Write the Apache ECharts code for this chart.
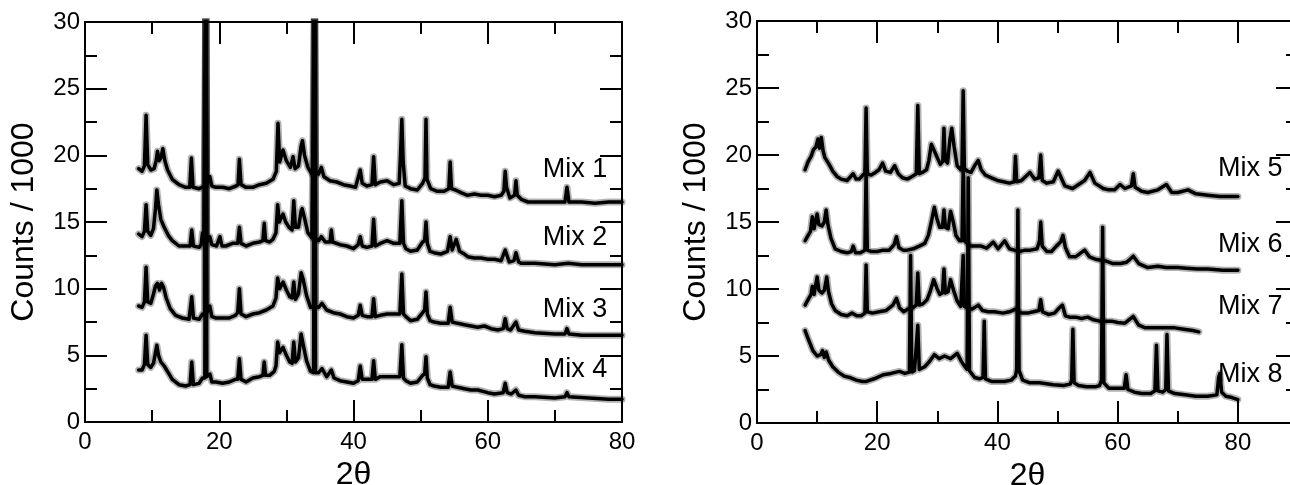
<!DOCTYPE html>
<html>
<head>
<meta charset="utf-8">
<script src="https://cdn.jsdelivr.net/npm/echarts@6/dist/echarts.min.js"></script>
<style>
html,body{margin:0;padding:0;background:#fff;overflow:hidden;}
#chart{width:1290px;height:485px;}
</style>
</head>
<body>
<div id="chart"></div>
<script>
// ---------- data: [2θ, counts / 1000] ----------
const mix1 = [[8,19.0],[8.5,18.8],[8.85,19.2],[9.1,23.0],[9.35,19.3],[9.8,18.9],[10.3,19.0],[10.6,19.6],[10.8,20.3],[11.05,19.6],[11.3,19.8],[11.6,20.5],[11.9,19.6],[12.3,18.9],[13,18.2],[14,17.8],[15,17.6],[15.6,17.6],[15.85,19.8],[16.1,17.6],[17,17.5],[17.85,17.7],[18.0,33],[18.15,17.8],[18.6,18.4],[18.9,17.7],[19.5,17.6],[20.5,17.6],[21.5,17.5],[22.5,17.7],[22.8,17.8],[23.0,19.7],[23.25,17.8],[24,17.6],[25,17.6],[26,17.8],[27,17.9],[28,18.2],[28.5,18.8],[28.75,22.4],[29.0,19.5],[29.5,20.4],[30,19.6],[30.6,19.1],[31.0,19.9],[31.3,19.0],[31.8,19.2],[32.2,20.7],[32.4,21.1],[32.7,20.0],[33.2,19.1],[33.8,18.6],[34.05,18.8],[34.2,33],[34.35,18.8],[34.8,18.6],[35.2,19.1],[35.6,18.4],[36.5,18.1],[37.5,18.0],[38.5,17.8],[39.5,17.7],[40.3,17.6],[40.8,18.5],[41.0,18.9],[41.3,17.9],[42,17.7],[42.75,17.8],[43.0,19.9],[43.25,17.8],[44,18.0],[45,18.1],[46,17.8],[46.8,17.9],[47.0,20.0],[47.2,22.7],[47.4,19.5],[47.7,17.7],[48.5,17.5],[49.5,17.4],[50.3,17.9],[50.65,18.3],[50.8,22.7],[50.95,18.2],[51.5,17.5],[52.5,17.3],[53.5,17.3],[54.2,17.5],[54.4,19.5],[54.6,17.5],[55.2,17.4],[56,17.2],[57,17.0],[58,17.1],[59,17.0],[60,17.0],[61,16.9],[62,17.0],[62.4,17.3],[62.6,18.8],[62.8,17.6],[63.3,16.8],[64.0,17.0],[64.2,18.1],[64.4,17.0],[65,16.7],[66,16.5],[68,16.5],[70,16.5],[71.5,16.5],[71.8,17.6],[72.1,16.5],[74,16.5],[76,16.4],[78,16.5],[80,16.5]];
const mix2 = [[8,14.1],[8.5,13.9],[8.85,14.3],[9.1,16.3],[9.35,14.3],[9.8,14.0],[10.2,14.5],[10.5,16.0],[10.7,17.4],[10.95,16.3],[11.3,15.2],[11.8,14.6],[12.4,14.0],[13,13.6],[14,13.2],[15,13.2],[15.65,13.2],[15.9,14.4],[16.15,13.2],[17,13.1],[17.3,13.3],[17.5,14.2],[17.7,13.4],[17.85,13.4],[18.0,33],[18.15,13.5],[18.6,13.9],[18.9,13.3],[19.6,13.2],[20.1,13.9],[20.4,13.2],[21,13.2],[22,13.4],[22.75,13.4],[23.0,14.6],[23.25,13.4],[24,13.2],[25,13.4],[26,13.5],[26.5,13.6],[26.7,14.9],[26.9,13.6],[27.5,13.5],[28,13.7],[28.45,14.2],[28.7,16.3],[28.95,15.0],[29.5,15.6],[29.9,15.0],[30.4,14.6],[30.85,14.4],[31.1,16.6],[31.35,14.6],[31.8,14.6],[32.2,15.8],[32.35,16.0],[32.7,15.3],[33.2,14.2],[33.8,13.8],[34.05,13.8],[34.2,33],[34.35,13.8],[34.8,13.6],[35.2,13.9],[35.8,13.5],[36.5,13.5],[36.7,14.4],[36.9,13.5],[38,13.3],[39,13.2],[40,13.0],[40.7,13.3],[41.0,13.9],[41.3,13.2],[42,13.1],[42.75,13.2],[43.0,15.2],[43.25,13.2],[44,13.4],[45,13.6],[46,13.4],[46.9,13.4],[47.2,16.6],[47.45,13.4],[47.8,13.0],[48.5,12.8],[49.5,12.9],[50.3,13.5],[50.6,13.6],[50.8,15.0],[51.0,13.4],[51.4,12.8],[52,12.7],[53,12.6],[54,12.8],[54.4,13.9],[54.7,12.9],[55.3,13.7],[55.8,12.8],[56.5,12.6],[57,12.4],[58,12.3],[59,12.3],[60,12.2],[61,12.2],[62,12.1],[62.6,12.9],[63.2,12.0],[63.9,12.1],[64.2,12.7],[64.6,12.0],[65,11.9],[67,11.9],[70,11.8],[72,11.9],[74,11.8],[76,11.8],[78,11.8],[80,11.8]];
const mix3 = [[8,8.7],[8.5,8.6],[8.85,9.0],[9.1,11.6],[9.35,9.0],[9.8,8.9],[10.2,9.6],[10.5,10.2],[10.8,10.4],[11.1,9.9],[11.4,10.4],[11.7,10.1],[12.1,9.3],[12.7,8.5],[13.5,8.0],[14.5,7.8],[15.5,7.7],[15.65,7.8],[15.9,9.4],[16.15,7.8],[17,7.7],[17.5,8.1],[17.85,8.0],[18.0,33],[18.15,8.2],[18.6,8.7],[18.9,7.9],[19.5,7.8],[20.5,7.8],[21.5,7.8],[22.4,8.0],[22.75,8.2],[23.0,10.0],[23.25,8.1],[24,7.9],[25,8.1],[26,8.2],[27,8.4],[28,8.7],[28.45,9.3],[28.7,10.8],[29.0,10.0],[29.5,10.5],[30.0,9.9],[30.5,9.4],[30.85,9.3],[31.1,10.5],[31.35,9.2],[31.8,9.6],[32.2,11.2],[32.5,10.7],[33.0,9.5],[33.6,8.6],[34.05,8.6],[34.2,33],[34.35,8.7],[34.8,8.6],[35.3,8.9],[36,8.4],[37,8.2],[38,8.1],[39,7.9],[40,7.8],[40.7,8.0],[41.0,8.75],[41.3,8.0],[42,7.9],[42.75,7.9],[43.0,9.25],[43.25,7.9],[44,8.0],[45,8.1],[46,8.1],[46.9,8.1],[47.2,11.1],[47.45,8.1],[47.8,7.9],[48.5,7.6],[49.5,7.7],[50.3,8.2],[50.6,8.4],[50.8,9.75],[51.0,8.1],[51.4,7.6],[52,7.5],[53,7.4],[54.1,7.4],[54.4,8.6],[54.7,7.5],[55.5,7.4],[56.5,7.3],[57.5,7.2],[58.5,7.1],[59.5,7.2],[60.5,7.0],[61.5,6.9],[62.3,7.0],[62.6,7.75],[62.9,7.0],[63.4,6.9],[64.2,7.5],[64.6,6.9],[65.5,6.8],[67,6.7],[70,6.6],[71.5,6.6],[71.8,7.0],[72.1,6.6],[74,6.5],[76,6.5],[78,6.5],[80,6.5]];
const mix4 = [[8,3.9],[8.5,3.9],[8.85,4.3],[9.1,6.5],[9.35,4.3],[9.8,4.1],[10.2,4.4],[10.5,5.2],[10.7,5.75],[10.95,5.0],[11.3,4.5],[11.8,4.2],[12.4,3.7],[13,3.2],[14,2.8],[15,2.7],[15.65,2.8],[15.9,4.5],[16.15,2.8],[17,2.9],[17.5,3.3],[17.85,3.3],[18.0,33],[18.15,3.4],[18.6,3.6],[18.9,3.0],[19.5,3.0],[20.5,2.9],[21.5,3.0],[22.4,3.2],[22.75,3.2],[23.0,4.75],[23.25,3.2],[24,3.0],[25,3.3],[26,3.4],[26.5,3.5],[26.7,4.5],[26.9,3.5],[27.5,3.5],[28.2,3.8],[28.45,4.2],[28.7,6.0],[29.0,5.2],[29.5,5.6],[30.0,5.0],[30.5,4.5],[30.85,4.4],[31.1,6.0],[31.35,4.5],[31.8,4.8],[32.2,6.6],[32.5,5.8],[33.0,4.6],[33.6,3.8],[34.05,3.7],[34.2,33],[34.35,3.7],[34.8,3.7],[35.3,4.0],[36,3.4],[36.7,3.9],[37.1,3.3],[38,3.1],[39,3.0],[40,2.9],[40.7,3.1],[41.0,4.2],[41.3,3.2],[42,3.2],[42.75,3.2],[43.0,4.6],[43.25,3.2],[44,3.4],[45,3.4],[46,3.4],[46.9,3.4],[47.2,5.8],[47.45,3.3],[47.8,3.1],[48.5,2.9],[49.5,3.0],[50.3,3.5],[50.6,3.6],[50.8,4.9],[51.0,3.3],[51.4,2.8],[52,2.7],[53,2.6],[54.1,2.6],[54.4,3.75],[54.7,2.7],[55.5,2.6],[56.5,2.5],[57.5,2.4],[58.5,2.4],[60,2.2],[61,2.1],[62.3,2.2],[62.6,2.9],[62.9,2.2],[63.5,2.1],[64.2,2.4],[64.6,2.0],[65.5,1.9],[67,1.9],[70,1.8],[71.5,1.9],[71.8,2.2],[72.1,1.9],[75,1.8],[78,1.7],[80,1.7]];
const mix5 = [[8,18.9],[8.5,19.5],[9.0,19.9],[9.4,20.4],[9.8,20.6],[10.15,21.2],[10.4,20.5],[10.7,21.3],[11.0,20.3],[11.3,19.8],[11.6,19.9],[12.0,19.3],[12.6,18.8],[13.3,18.4],[14,18.2],[15,18.1],[16.0,18.6],[16.5,18.2],[17,18.2],[17.6,18.5],[17.95,18.6],[18.15,23.5],[18.35,18.6],[19,18.5],[19.7,18.7],[20.3,18.9],[20.9,19.4],[21.4,18.8],[22.2,18.7],[22.9,19.2],[23.5,18.6],[24.2,18.3],[25,18.2],[25.8,18.4],[26.5,18.6],[26.75,23.7],[27.0,18.6],[27.5,18.7],[28.2,18.9],[28.6,19.6],[29.0,20.8],[29.5,20.3],[30.0,19.8],[30.5,19.3],[30.9,19.5],[31.1,22.0],[31.3,19.6],[31.7,19.4],[32.1,21.2],[32.4,22.0],[32.8,20.6],[33.3,19.2],[33.9,18.9],[34.1,19.2],[34.3,24.8],[34.5,19.0],[35.0,18.8],[35.6,18.7],[36.2,19.2],[36.8,19.6],[37.3,18.9],[38,18.5],[39,18.3],[40,18.1],[41,18.0],[42,17.9],[42.8,18.0],[43.0,19.9],[43.2,18.0],[44,18.1],[45.4,18.7],[46.2,18.2],[46.9,18.3],[47.2,20.0],[47.45,18.1],[48.2,17.9],[49.3,18.0],[50.1,18.8],[50.6,18.3],[51.2,17.7],[52.5,17.5],[53.5,17.8],[54.5,18.1],[55.4,18.7],[56.2,17.9],[57.6,17.5],[58.5,17.4],[59.5,17.4],[60.4,17.8],[61.2,17.5],[62.3,17.7],[62.6,18.6],[62.9,17.6],[64,17.3],[65,17.2],[66.7,17.4],[68.1,17.8],[69,17.2],[70,17.2],[71.7,17.4],[73,17.1],[75,17.0],[77,16.9],[78.5,16.9],[80,16.9]];
const mix6 = [[8,13.6],[8.5,14.0],[8.9,14.3],[9.2,15.4],[9.5,14.5],[9.8,14.6],[10.0,15.6],[10.3,14.8],[10.8,14.7],[11.2,15.0],[11.5,15.9],[11.8,14.8],[12.3,13.8],[13,13.0],[14,12.8],[15,12.7],[15.7,12.8],[16.0,13.2],[16.4,12.7],[17.2,12.7],[17.95,12.9],[18.15,18.8],[18.35,12.9],[19,12.8],[20,12.8],[21,12.9],[22,12.9],[22.8,13.3],[23.2,13.9],[23.6,13.1],[24.3,12.9],[25,12.9],[26,13.0],[27,13.2],[27.9,13.4],[28.5,14.0],[29.0,15.0],[29.5,16.1],[29.9,15.3],[30.4,14.6],[30.85,14.6],[31.1,15.9],[31.35,14.6],[31.8,14.5],[32.2,15.8],[32.6,15.1],[33.1,14.0],[33.7,13.6],[34.1,13.6],[34.3,19.0],[34.5,13.6],[35.0,13.4],[35.6,13.2],[36.5,13.2],[37.3,13.2],[38.2,13.05],[39.3,13.5],[40.1,13.0],[41.2,13.6],[42,13.0],[42.8,12.9],[43.7,12.8],[44.6,12.9],[45.5,12.9],[46.6,13.0],[47.0,13.6],[47.2,15.0],[47.45,13.2],[48.2,12.8],[49.0,12.8],[49.8,13.2],[50.5,13.5],[50.9,14.0],[51.3,13.1],[52,12.4],[53,12.4],[54.5,12.9],[55.3,12.4],[56.5,12.2],[58,12.1],[59.2,11.9],[60.5,11.9],[61.5,12.0],[62.6,12.45],[63.5,11.9],[65,11.6],[66.7,11.7],[68,11.6],[70,11.6],[71.4,11.55],[73.3,11.5],[75,11.5],[77.5,11.4],[80,11.4]];
const mix7 = [[8,8.8],[8.5,9.2],[9.0,9.6],[9.2,10.2],[9.5,9.6],[9.8,9.6],[10.0,10.9],[10.3,9.9],[10.8,9.7],[11.2,9.9],[11.6,10.9],[11.9,9.8],[12.4,8.9],[13,8.4],[14,8.1],[15,8.0],[15.8,8.2],[16.6,8.0],[17.3,8.0],[17.95,8.2],[18.15,11.8],[18.35,8.3],[19.2,8.2],[20.3,8.3],[21.5,8.4],[22.6,8.8],[23.2,9.3],[23.7,8.6],[24.4,8.3],[25.1,8.5],[25.9,8.6],[26.5,8.8],[26.75,11.2],[27.0,8.8],[27.6,8.9],[28.3,9.2],[28.8,9.8],[29.4,10.7],[29.9,10.1],[30.4,9.6],[30.85,9.7],[31.1,11.5],[31.35,9.7],[31.8,9.8],[32.2,10.7],[32.7,9.9],[33.3,9.1],[33.9,8.7],[34.1,8.7],[34.3,12.5],[34.5,8.7],[35.0,8.6],[35.8,8.5],[36.8,8.8],[37.5,8.4],[38.5,8.3],[39.5,8.3],[40.9,8.2],[42,8.3],[43,8.5],[44,8.2],[45,8.2],[46,8.3],[46.9,8.4],[47.2,9.2],[47.5,8.3],[48.5,8.1],[49.5,8.2],[50.3,8.6],[50.8,8.8],[51.3,8.0],[52,7.9],[53,7.9],[54,7.8],[55,7.9],[56,7.7],[57,7.6],[58,7.6],[59,7.6],[60,7.5],[61.2,7.45],[62.6,7.95],[63.5,7.3],[64.6,7.1],[66,7.1],[67.5,7.1],[69.5,7.1],[71,7.0],[72.5,6.9],[73.5,6.8]];
const mix8 = [[8,6.9],[8.5,6.3],[9.3,5.4],[10,5.0],[10.6,5.1],[10.9,5.4],[11.2,4.9],[11.5,5.3],[11.9,4.7],[12.6,4.2],[13.5,3.8],[14.5,3.5],[15.4,3.4],[16.5,3.2],[17.5,3.1],[18.2,3.1],[19.5,3.3],[21.0,3.6],[22.3,3.7],[23.7,3.85],[24.6,3.7],[25.35,3.8],[25.55,12.5],[25.75,3.8],[26.2,3.9],[26.5,4.0],[26.75,7.3],[27.0,4.0],[27.9,4.2],[28.7,4.6],[29.5,5.1],[30.3,4.8],[31.2,5.0],[32.2,4.8],[33.3,5.2],[34.0,4.6],[34.6,4.2],[34.95,4.0],[35.15,18.3],[35.35,3.9],[36.2,3.4],[37.0,3.3],[37.6,3.4],[37.8,7.6],[38.0,3.3],[39,3.1],[40.1,3.1],[41.2,3.1],[42.3,3.2],[43.0,3.5],[43.2,4.0],[43.4,15.9],[43.6,3.9],[44.2,3.2],[45.4,3.0],[47,3.0],[49.3,2.85],[51,2.8],[52.1,2.9],[52.35,3.2],[52.55,7.0],[52.75,3.0],[53.5,2.8],[54.8,2.7],[56.3,2.7],[57.0,2.8],[57.3,3.2],[57.5,14.6],[57.7,3.0],[58.5,2.6],[60.4,2.6],[61.1,2.6],[61.4,3.6],[61.7,2.5],[62.8,2.3],[64,2.2],[65.5,2.2],[66.2,2.4],[66.45,5.8],[66.7,2.4],[67.5,2.3],[68.0,2.5],[68.2,6.6],[68.45,2.4],[69.5,2.2],[71.2,2.1],[73,2.0],[75,2.0],[76.5,2.1],[76.8,3.4],[77.0,3.7],[77.3,2.3],[78,2.0],[79,1.9],[80,1.75]];

const leftSeries = [mix1, mix2, mix3, mix4];
const rightSeries = [mix5, mix6, mix7, mix8];
const leftNames = ['Mix 1', 'Mix 2', 'Mix 3', 'Mix 4'];
const rightNames = ['Mix 5', 'Mix 6', 'Mix 7', 'Mix 8'];
// label anchors in data units [2θ, counts / 1000]
const leftLabelAt = [[68.2, 18.9], [68.2, 13.8], [68.2, 8.4], [68.2, 3.9]];
const rightLabelAt = [[76.7, 19.0], [76.7, 13.3], [76.7, 8.7], [76.7, 3.6]];
const xTitle = '2θ';
const yTitle = 'Counts / 1000';

// ---------- styling ----------
const FONT = '"Liberation Sans", Arial, Helvetica, sans-serif';
function AX() { return {color: '#000', width: 2, opacity: 1}; }

function xAxesFor(grid, max) {
  const major = (pos, labels) => ({
    type: 'value', gridIndex: grid, min: 0, max: max, position: pos, interval: 20,
    splitLine: {show: false},
    axisLine: {show: true, onZero: false, lineStyle: AX()},
    axisTick: {show: true, inside: true, length: 22, lineStyle: AX()},
    axisLabel: {show: labels, color: '#000', fontSize: 24, margin: 8, fontFamily: FONT, showMaxLabel: max === 80},
    name: labels ? xTitle : '', nameLocation: 'middle', nameGap: 36,
    nameTextStyle: {color: '#000', fontSize: 32, fontFamily: FONT}
  });
  const minor = (pos) => ({
    type: 'value', gridIndex: grid, min: 0, max: max, position: pos, interval: 10,
    splitLine: {show: false},
    axisLine: {show: false, onZero: false},
    axisTick: {show: true, inside: true, length: 12, lineStyle: AX()},
    axisLabel: {show: false}
  });
  return [major('bottom', true), minor('bottom'), major('top', false), minor('top')];
}
function yAxesFor(grid) {
  const mk = (pos, labels) => ({
    type: 'value', gridIndex: grid, min: 0, max: 30, interval: 5, position: pos,
    splitLine: {show: false},
    axisLine: {show: true, onZero: false, lineStyle: AX()},
    axisTick: {show: true, inside: true, length: 22, lineStyle: AX()},
    minorTick: {show: true, splitNumber: 2, length: 12, lineStyle: AX()},
    axisLabel: {show: labels, color: '#000', fontSize: 24, margin: 5, fontFamily: FONT},
    name: labels ? yTitle : '', nameLocation: 'middle', nameGap: 45,
    nameTextStyle: {color: '#000', fontSize: 32, fontFamily: FONT}
  });
  return [mk('left', true), mk('right', false)];
}

function lineSeries(data, xi, yi, width, color, z) {
  return {type: 'line', xAxisIndex: xi, yAxisIndex: yi, data: data, showSymbol: false, symbol: 'none',
    clip: true, lineStyle: {color: color, width: width, join: 'round', cap: 'round'}, silent: true, z: z};
}
function labelSeries(names, pts, xi, yi) {
  return {type: 'scatter', xAxisIndex: xi, yAxisIndex: yi, symbolSize: 0, silent: true, z: 5,
    data: names.map((n, i) => ({name: n, value: pts[i]})),
    label: {show: true, position: 'right', distance: 0, formatter: '{b}', color: '#000', opacity: 1,
      fontSize: 27, fontFamily: FONT}};
}

const series = [];
// faint halo imitates the noise band of the scans, solid core on top
leftSeries.forEach(d => series.push(lineSeries(d, 0, 0, 7, 'rgba(0,0,0,0.3)', 1)));
rightSeries.forEach(d => series.push(lineSeries(d, 4, 2, 7, 'rgba(0,0,0,0.3)', 1)));
leftSeries.forEach(d => series.push(lineSeries(d, 0, 0, 3.5, '#000', 2)));
rightSeries.forEach(d => series.push(lineSeries(d, 4, 2, 3.5, '#000', 2)));
series.push(labelSeries(leftNames, leftLabelAt, 0, 0));
series.push(labelSeries(rightNames, rightLabelAt, 4, 2));

const chart = echarts.init(document.getElementById('chart'), null, {renderer: 'canvas'});
chart.setOption({
  animation: false,
  backgroundColor: '#fff',
  grid: [
    {left: 85, top: 22, width: 537, height: 400, outerBoundsMode: 'none', containLabel: false},
    {left: 757, top: 21, width: 541, height: 402, outerBoundsMode: 'none', containLabel: false}
  ],
  xAxis: xAxesFor(0, 80).concat(xAxesFor(1, 90)),
  yAxis: yAxesFor(0).concat(yAxesFor(1)),
  series: series
});
</script>
</body>
</html>
